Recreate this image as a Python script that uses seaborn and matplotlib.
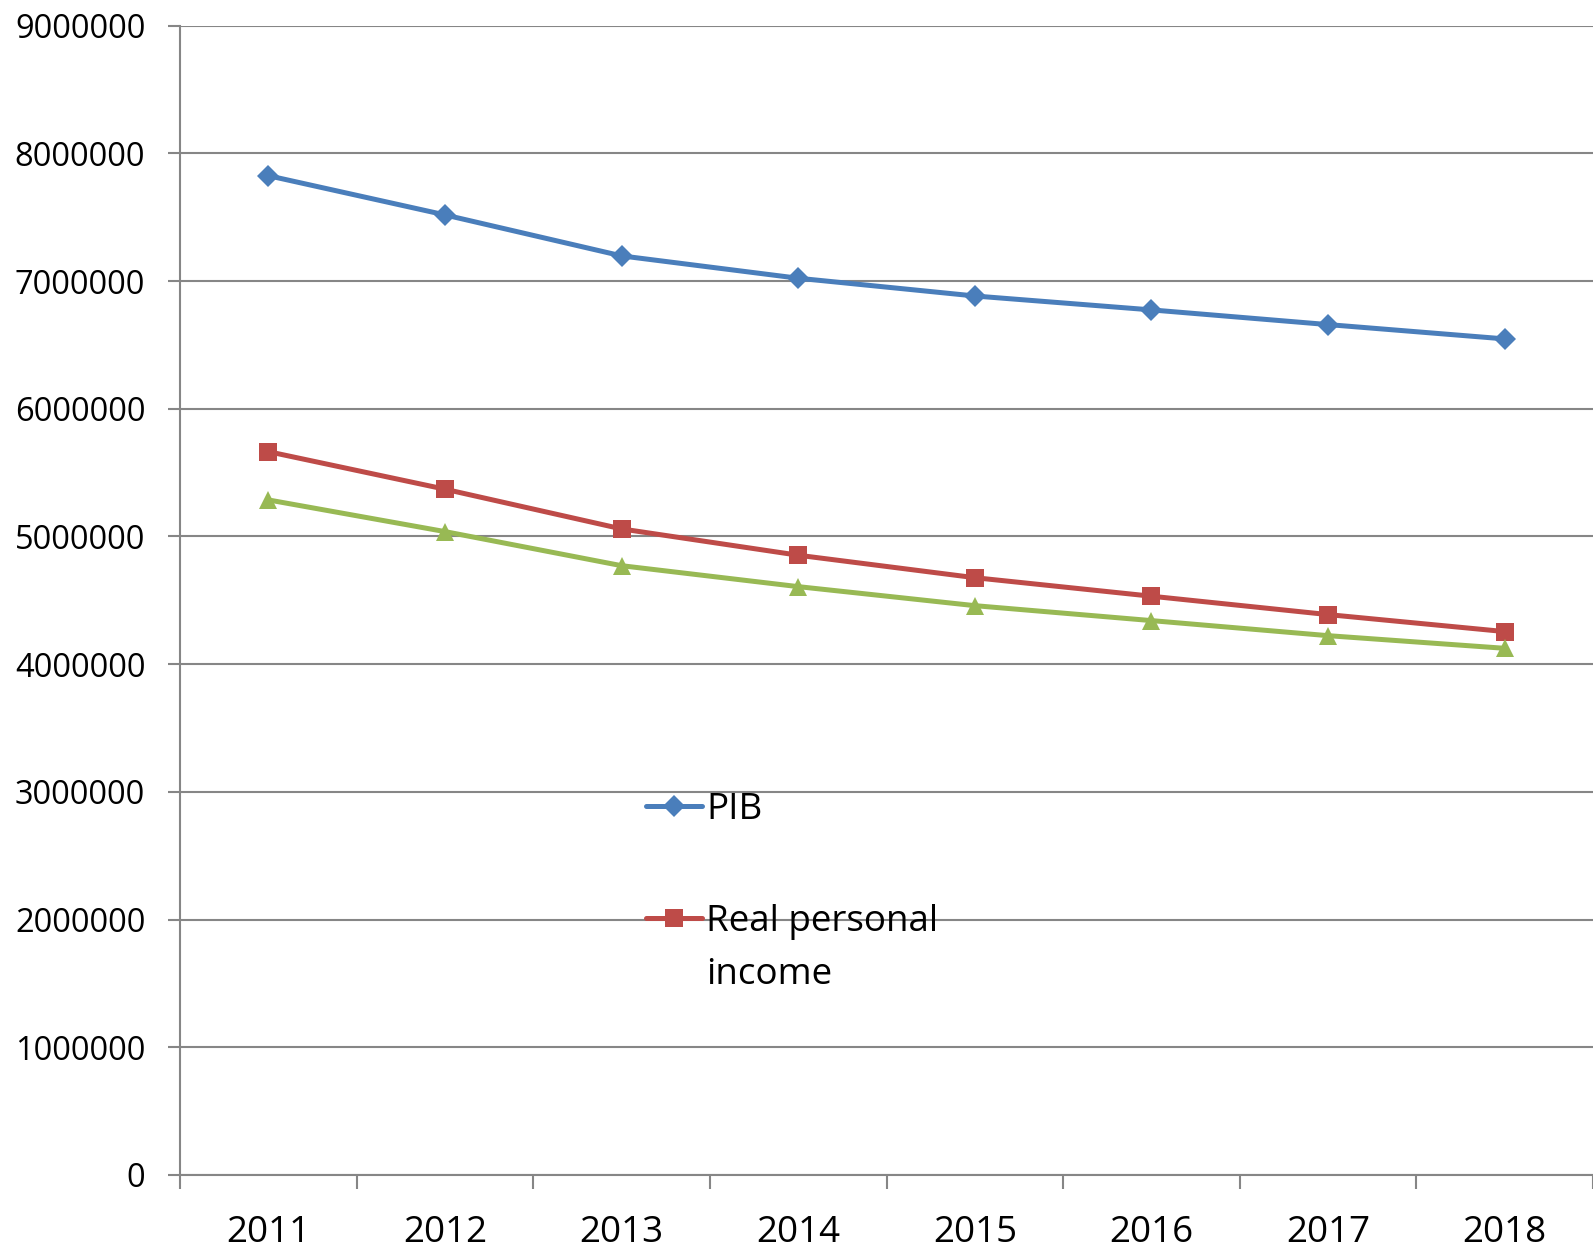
import matplotlib
matplotlib.use("Agg")
import matplotlib.pyplot as plt
from matplotlib.lines import Line2D
from matplotlib.ticker import FixedLocator, FuncFormatter
import seaborn as sns
import pandas as pd

# Series values by year
years = ["2011", "2012", "2013", "2014", "2015", "2016", "2017", "2018"]
pib = [7825000, 7518000, 7197000, 7022000, 6883000, 6774000, 6659000, 6547000]
real_personal_income = [5664000, 5370000, 5059000, 4853000, 4677000, 4532000, 4388000, 4255000]
third_series = [5286000, 5038000, 4771000, 4607000, 4458000, 4341000, 4223000, 4124000]

y_ticks = [0, 1000000, 2000000, 3000000, 4000000, 5000000, 6000000, 7000000, 8000000, 9000000]

sns.set_theme(style="white")
plt.rcParams["font.family"] = ["Open Sans", "DejaVu Sans"]

BLUE = "#4A7EBB"
RED = "#BE4B48"
GREEN = "#98B954"
GRID = "#868686"
FS_Y = 23.5
FS_X = 26.5
LW = 3.6

fig = plt.figure(figsize=(15.93, 12.51), dpi=100)
ax = fig.add_axes([0.113, 0.0608, 0.887, 0.9187])

df = pd.DataFrame({"year": years, "PIB": pib,
                   "Real personal income": real_personal_income,
                   "third": third_series})

series = [("PIB", BLUE, "D", 11),
          ("Real personal income", RED, "s", 13),
          ("third", GREEN, "^", 13)]
for col, color, marker, ms in series:
    sns.lineplot(data=df, x="year", y=col, ax=ax, color=color, linewidth=LW,
                 marker=marker, markersize=ms, markeredgewidth=0,
                 sort=False, legend=False)

ax.set_xlim(-0.5, len(years) - 0.5)
ax.set_ylim(0, 9000000)
ax.set_xlabel("")
ax.set_ylabel("")

# y axis
ax.yaxis.set_major_locator(FixedLocator(y_ticks))
ax.yaxis.set_major_formatter(FuncFormatter(lambda v, p: f"{int(round(v))}"))
ax.grid(axis="y", color=GRID, linewidth=1.5)
ax.grid(axis="x", visible=False)
ax.tick_params(axis="y", which="major", length=9, width=1.5, color=GRID,
               labelsize=FS_Y, pad=16, labelcolor="black", left=True)

# x axis: labels centred on categories, ticks on category boundaries
ax.set_xticks(range(len(years)))
ax.set_xticklabels(years)
ax.set_xticks([i - 0.5 for i in range(len(years) + 1)], minor=True)
ax.tick_params(axis="x", which="major", length=0, labelsize=FS_X, pad=29,
               labelcolor="black")
ax.tick_params(axis="x", which="minor", length=10, width=1.5, color=GRID,
               bottom=True)

for side in ["top", "right"]:
    ax.spines[side].set_visible(False)
for side in ["left", "bottom"]:
    ax.spines[side].set_color(GRID)
    ax.spines[side].set_linewidth(1.5)
ax.set_axisbelow(True)

handles = [
    Line2D([], [], color=BLUE, linewidth=LW, marker="D", markersize=11,
           markeredgewidth=0),
    Line2D([], [], color=RED, linewidth=LW, marker="s", markersize=13,
           markeredgewidth=0),
]
leg = ax.legend(handles, ["PIB", "Real personal"],
                loc="upper left", bbox_to_anchor=(0.330, 0.333),
                frameon=False, fontsize=FS_X, handlelength=1.5,
                handletextpad=0.13, labelspacing=2.05, borderpad=0,
                borderaxespad=0)
for t in leg.get_texts():
    t.set_color("black")
# second line of the wrapped legend label, drawn after the legend is laid out
ax.annotate("income", xy=(0, 0), xycoords=leg.get_texts()[1],
            xytext=(0, -53), textcoords="offset pixels",
            ha="left", va="bottom", fontsize=FS_X, color="black", zorder=6)

fig.savefig("out.png", dpi=100, facecolor="white")
